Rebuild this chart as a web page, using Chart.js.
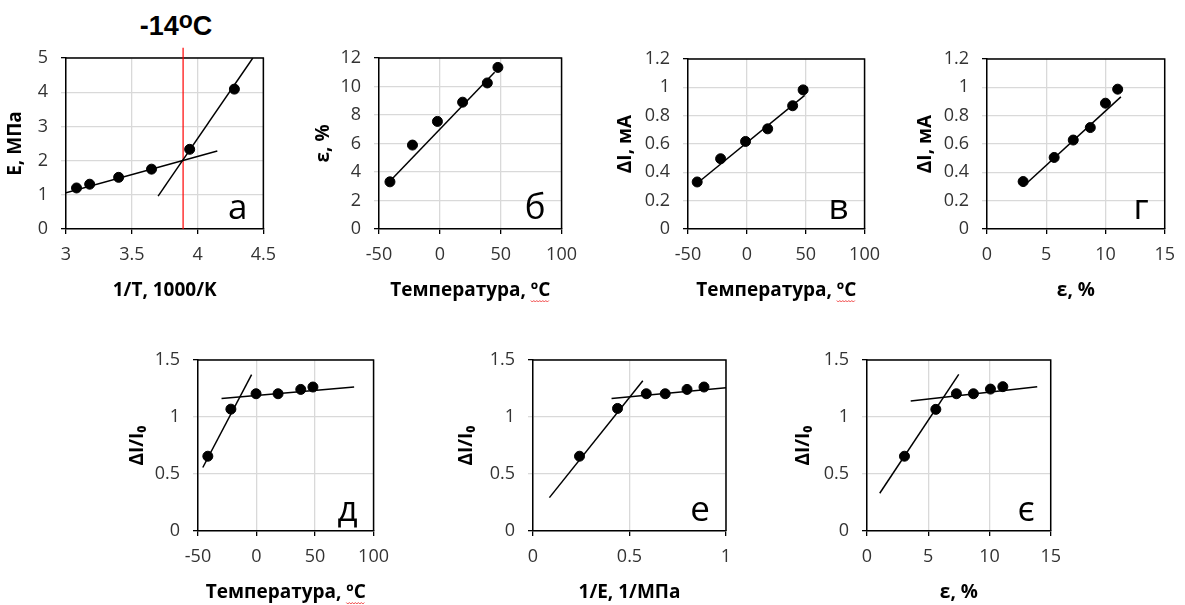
<!DOCTYPE html>
<html lang="uk">
<head>
<meta charset="utf-8">
<title>E, ε, ΔI — температурні залежності</title>
<script src="https://cdn.jsdelivr.net/npm/chart.js@4/dist/chart.umd.min.js"></script>
<style>
  html, body { margin: 0; padding: 0; background: #fff; overflow: hidden; }
  body { width: 1185px; height: 605px; position: relative; }
  canvas { position: absolute; }
  .mark {
    position: absolute; left: 176px; top: 13px; transform: translateX(-50%);
    font: bold 27px "Liberation Sans", Arial, sans-serif; line-height: 1; color: #000; white-space: nowrap;
  }
  .mark sup { font-size: 23px; vertical-align: 7px; line-height: 0; }
</style>
</head>
<body>
<div class="mark">-14<sup>o</sup>C</div>
<script>
/* ── Дані ── */

// а: E від 1/T
const A_INV_T = [3.08, 3.18, 3.40, 3.65, 3.94, 4.28];
const A_E = [1.20, 1.31, 1.51, 1.75, 2.33, 4.09];
const A_FIT_LOW_X = [3.00, 4.15];
const A_FIT_LOW_Y = [1.06, 2.28];
const A_FIT_HIGH_X = [3.70, 4.42];
const A_FIT_HIGH_Y = [0.96, 5.00];
const A_BREAK_X = [3.89, 3.89];   // -14 °C
const A_BREAK_Y = [0, 5.3];

// б: ε від температури
const B_T = [-41, -22.5, -2, 18.7, 39, 47.7];
const B_EPS = [3.31, 5.89, 7.55, 8.90, 10.25, 11.34];
const B_FIT_X = [-40.7, 45];
const B_FIT_Y = [3.38, 11.0];

// в: ΔI від температури
const V_T = [-42.2, -22.3, -1.1, 17.7, 38.9, 47.8];
const V_DI = [0.332, 0.496, 0.618, 0.707, 0.870, 0.982];
const V_FIT_X = [-42.2, 49.1];
const V_FIT_Y = [0.323, 0.943];

// г: ΔI від ε
const G_EPS = [3.05, 5.67, 7.28, 8.72, 10.0, 11.03];
const G_DI = [0.335, 0.505, 0.628, 0.716, 0.888, 0.987];
const G_FIT_X = [3.05, 11.3];
const G_FIT_Y = [0.30, 0.933];

// д: ΔI/I0 від температури
const D_T = [-41.6, -21.9, -0.4, 18.4, 37.8, 48.2];
const D_REL = [0.656, 1.069, 1.204, 1.204, 1.242, 1.263];
const D_FIT1_X = [-45.9, -4.2];
const D_FIT1_Y = [0.557, 1.371];
const D_FIT2_X = [-29.9, 83.4];
const D_FIT2_Y = [1.163, 1.263];

// е: ΔI/I0 від 1/E
const E_INV_E = [0.241, 0.438, 0.587, 0.685, 0.798, 0.886];
const E_REL = [0.656, 1.075, 1.204, 1.204, 1.242, 1.263];
const E_FIT1_X = [0.085, 0.569];
const E_FIT1_Y = [0.293, 1.318];
const E_FIT2_X = [0.407, 1.0];
const E_FIT2_Y = [1.163, 1.257];

// є: ΔI/I0 від ε
const YE_EPS = [3.06, 5.62, 7.30, 8.69, 10.08, 11.09];
const YE_REL = [0.656, 1.067, 1.204, 1.204, 1.245, 1.266];
const YE_FIT1_X = [1.04, 7.49];
const YE_FIT1_Y = [0.331, 1.374];
const YE_FIT2_X = [3.57, 13.9];
const YE_FIT2_Y = [1.14, 1.266];

// Поділки осей
const TICKS_INV_T = [3, 3.5, 4, 4.5];
const TICKS_E = [0, 1, 2, 3, 4, 5];
const TICKS_TEMP = [-50, 0, 50, 100];
const TICKS_EPS_Y = [0, 2, 4, 6, 8, 10, 12];
const TICKS_DI = [0, 0.2, 0.4, 0.6, 0.8, 1, 1.2];
const TICKS_EPS_X = [0, 5, 10, 15];
const TICKS_REL = [0, 0.5, 1, 1.5];
const TICKS_INV_E = [0, 0.5, 1];

/* ── Стиль ── */
const GRID = '#d9d9d9';
const INK = '#000';
const TITLE_FONT = { size: 19, weight: 'bold', lineHeight: 1.2 };
Chart.defaults.font.family = '"Open Sans", "Noto Sans", sans-serif';

const pts = (xs, ys) => xs.map((x, i) => ({ x, y: ys[i] }));

function dots(xs, ys) {
  return {
    data: pts(xs, ys), showLine: false,
    pointRadius: 5, pointBorderWidth: 1,
    pointBackgroundColor: INK, pointBorderColor: INK
  };
}

function line(xs, ys, color, width, clip) {
  const ds = {
    data: pts(xs, ys), showLine: true, pointRadius: 0,
    borderColor: color || INK, borderWidth: width || 1.5, fill: false
  };
  if (clip === false) ds.clip = false;
  return ds;
}

// верхня і права межі області побудови
const frame = {
  id: 'frame',
  beforeDatasetsDraw(chart) {
    const { ctx, chartArea: a } = chart;
    ctx.save();
    ctx.strokeStyle = INK;
    ctx.lineWidth = 1.5;
    ctx.beginPath();
    ctx.moveTo(a.left, a.top);
    ctx.lineTo(a.right, a.top);
    ctx.lineTo(a.right, a.bottom);
    ctx.stroke();
    ctx.restore();
  }
};

// літера панелі + червоне хвилясте підкреслення «ºC» (як у Word)
const tag = {
  id: 'tag',
  afterDraw(chart, args, opts) {
    const { ctx, chartArea: a } = chart;
    ctx.save();
    if (opts.text) {
      ctx.font = '35px "Open Sans", sans-serif';
      ctx.fillStyle = INK;
      ctx.textAlign = 'right';
      ctx.textBaseline = 'alphabetic';
      ctx.fillText(opts.text, a.right - 16, a.bottom - 10);
    }
    const xs = chart.scales.x;
    const title = xs.options.title.text;
    if (title.endsWith('ºC')) {
      ctx.font = 'bold 19px "Open Sans", sans-serif';
      const full = ctx.measureText(title).width;
      const tail = ctx.measureText('ºC').width;
      const x1 = (a.left + a.right) / 2 + full / 2;
      const x0 = x1 - tail;
      const y = xs.bottom - 11 + 10;
      ctx.strokeStyle = '#e33';
      ctx.lineWidth = 0.9;
      ctx.beginPath();
      for (let x = x0, k = 0; x <= x1; x += 1.5, k++) {
        const yy = y + (k % 2 ? 1 : -0.5);
        if (k === 0) ctx.moveTo(x, yy); else ctx.lineTo(x, yy);
      }
      ctx.stroke();
    }
    ctx.restore();
  }
};

function axis(ticks, title, size, dir) {
  const lo = ticks[0], hi = ticks[ticks.length - 1];
  return {
    type: 'linear',
    min: lo,
    max: hi,
    afterBuildTicks: s => { s.ticks = ticks.map(v => ({ value: v })); },
    afterFit: s => { if (dir === 'x') s.height = size; else s.width = size; },
    grid: {
      color: GRID,
      lineWidth: 1.3,
      tickLength: 5,
      tickWidth: 1.3,
      tickColor: dir === 'x' ? INK
        : c => (c.tick && (c.tick.value === lo || c.tick.value === hi) ? INK : GRID)
    },
    border: { color: INK, width: 1.5 },
    ticks: {
      padding: dir === 'x' ? 10 : 13,
      color: '#333',
      font: { size: 18 },
      callback: v => String(v)
    },
    title: { display: true, text: title, color: INK, padding: 0, font: TITLE_FONT }
  };
}

// box: межі області побудови на сторінці + центри підписів осей
function panel(box, p) {
  const left = box.yTitleX - 11;
  const top = box.t - 25;
  const right = box.r + 18;
  const bottom = box.xTitleY + 11;

  const canvas = document.createElement('canvas');
  canvas.width = right - left;
  canvas.height = bottom - top;
  canvas.style.left = left + 'px';
  canvas.style.top = top + 'px';
  document.body.appendChild(canvas);

  return new Chart(canvas, {
    type: 'scatter',
    data: { datasets: p.datasets },
    options: {
      responsive: false,
      animation: false,
      events: [],
      layout: { padding: { left: 0, top: 25, right: 18, bottom: 0 } },
      plugins: {
        legend: { display: false },
        tooltip: { enabled: false },
        tag: { text: p.tag }
      },
      scales: {
        x: axis(p.xTicks, p.xTitle, bottom - box.b, 'x'),
        y: axis(p.yTicks, p.yTitle, box.l - left, 'y')
      }
    },
    plugins: [frame, tag]
  });
}

panel({ l: 66, t: 58, r: 268, b: 229, yTitleX: 15, xTitleY: 291 }, {
  tag: 'а', xTicks: TICKS_INV_T, yTicks: TICKS_E,
  xTitle: '1/T, 1000/K', yTitle: 'E, МПа',
  datasets: [
    dots(A_INV_T, A_E),
    line(A_FIT_LOW_X, A_FIT_LOW_Y),
    line(A_FIT_HIGH_X, A_FIT_HIGH_Y),
    line(A_BREAK_X, A_BREAK_Y, '#ff0000', 1.2, false)
  ]
});

panel({ l: 379, t: 58, r: 569, b: 229, yTitleX: 323, xTitleY: 291 }, {
  tag: 'б', xTicks: TICKS_TEMP, yTicks: TICKS_EPS_Y,
  xTitle: 'Температура, ºC', yTitle: 'ε, %',
  datasets: [dots(B_T, B_EPS), line(B_FIT_X, B_FIT_Y)]
});

panel({ l: 688, t: 59, r: 872, b: 229, yTitleX: 625, xTitleY: 291 }, {
  tag: 'в', xTicks: TICKS_TEMP, yTicks: TICKS_DI,
  xTitle: 'Температура, ºC', yTitle: 'ΔI, мА',
  datasets: [dots(V_T, V_DI), line(V_FIT_X, V_FIT_Y)]
});

panel({ l: 987, t: 59, r: 1167, b: 229, yTitleX: 925, xTitleY: 291 }, {
  tag: 'г', xTicks: TICKS_EPS_X, yTicks: TICKS_DI,
  xTitle: 'ε, %', yTitle: 'ΔI, мА',
  datasets: [dots(G_EPS, G_DI), line(G_FIT_X, G_FIT_Y)]
});

panel({ l: 198, t: 360, r: 381, b: 531, yTitleX: 137, xTitleY: 593 }, {
  tag: 'д', xTicks: TICKS_TEMP, yTicks: TICKS_REL,
  xTitle: 'Температура, ºC', yTitle: 'ΔI/I₀',
  datasets: [dots(D_T, D_REL), line(D_FIT1_X, D_FIT1_Y), line(D_FIT2_X, D_FIT2_Y)]
});

panel({ l: 533, t: 360, r: 726, b: 531, yTitleX: 466, xTitleY: 593 }, {
  tag: 'е', xTicks: TICKS_INV_E, yTicks: TICKS_REL,
  xTitle: '1/E, 1/МПа', yTitle: 'ΔI/I₀',
  datasets: [dots(E_INV_E, E_REL), line(E_FIT1_X, E_FIT1_Y), line(E_FIT2_X, E_FIT2_Y)]
});

panel({ l: 867, t: 360, r: 1053, b: 531, yTitleX: 803, xTitleY: 593 }, {
  tag: 'є', xTicks: TICKS_EPS_X, yTicks: TICKS_REL,
  xTitle: 'ε, %', yTitle: 'ΔI/I₀',
  datasets: [dots(YE_EPS, YE_REL), line(YE_FIT1_X, YE_FIT1_Y), line(YE_FIT2_X, YE_FIT2_Y)]
});
</script>
</body>
</html>
